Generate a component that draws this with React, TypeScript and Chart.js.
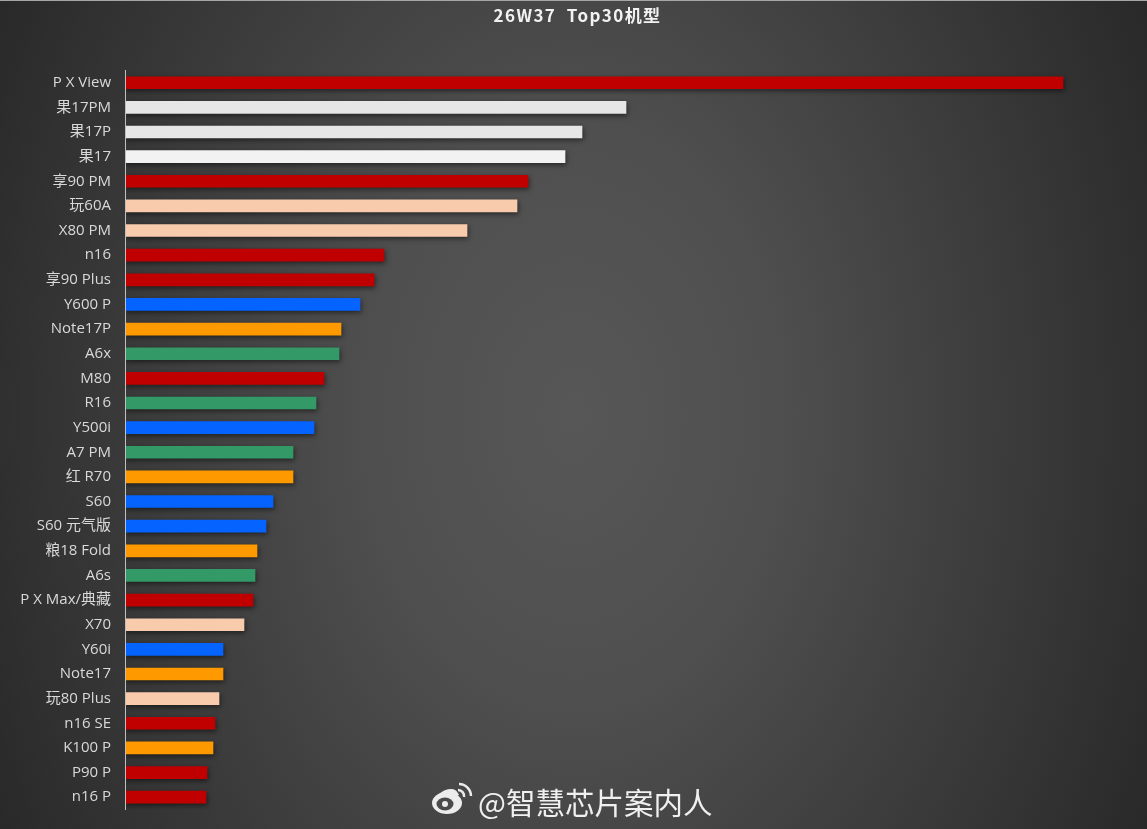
import React, { useEffect, useRef } from "react";
import Chart from "chart.js/auto";

const categories = ["P X View","果17PM","果17P","果17","享90 PM","玩60A","X80 PM","n16","享90 Plus","Y600 P","Note17P","A6x","M80","R16","Y500i","A7 PM","红 R70","S60","S60 元气版","粮18 Fold","A6s","P X Max/典藏","X70","Y60i","Note17","玩80 Plus","n16 SE","K100 P","P90 P","n16 P"];
const values = [938,501,457,440,403,392,342,259,249,235,216,214,199,191,189,168,168,148,141,132,130,128,119,98,98,94,90,88,82,81];
const RED="#c00000", WHITE="#e7e6e6", PEACH="#f8cbad", BLUE="#0563ff", ORANGE="#ff9900", GREEN="#339966";
const barColors = [RED,WHITE,WHITE,"#f2f2f2",RED,PEACH,PEACH,RED,RED,BLUE,ORANGE,GREEN,RED,GREEN,BLUE,GREEN,ORANGE,BLUE,BLUE,ORANGE,GREEN,RED,PEACH,BLUE,ORANGE,PEACH,RED,ORANGE,RED,RED];
const titleText = "26W37  Top30机型";
const watermark = "@智慧芯片案内人";
const FONT = '"Noto Sans CJK SC", "Open Sans", sans-serif';
const LABEL_FONT = '"Open Sans", "Noto Sans CJK SC", sans-serif';

const barShadow = {
  id: "barShadow",
  beforeDatasetsDraw(chart: any) {
    const c = chart.ctx; c.save();
    c.shadowColor = "rgba(0,0,0,0.5)"; c.shadowBlur = 5; c.shadowOffsetX = 1; c.shadowOffsetY = 2;
  },
  afterDatasetsDraw(chart: any) { chart.ctx.restore(); },
};

export default function App() {
  const ref = useRef<HTMLCanvasElement>(null);
  useEffect(() => {
    document.body.style.margin = "0";
    const chart: any = new Chart(ref.current!, {
      type: "bar",
      data: { labels: categories, datasets: [{ data: values, backgroundColor: barColors, barThickness: 12, borderWidth: 0 }] },
      options: {
        indexAxis: "y", responsive: false, animation: false,
        layout: { padding: { right: 22, top: 0, bottom: 19.5 } },
        plugins: {
          legend: { display: false }, tooltip: { enabled: false },
          title: { display: true, text: titleText, color: "#f2f2f2", font: { family: FONT, size: 17, weight: "bold" }, padding: { top: 4, bottom: 46 } },
        },
        scales: {
          x: { display: false, min: 0, max: 1000 },
          y: {
            afterFit(s: any) { s.width = 125; s.paddingTop = 0; s.paddingBottom = 0; },
            grid: { display: false, drawTicks: false },
            border: { display: true, color: "#bfbfbf", width: 1, z: 1 },
            ticks: { autoSkip: false, color: "#d9d9d9", padding: 14, font: { family: LABEL_FONT, size: 15 } },
          },
        },
      },
      plugins: [barShadow],
    } as any);
    const tb = chart.titleBlock;
    const drawTitle = tb.draw.bind(tb);
    tb.draw = () => {
      chart.ctx.save();
      chart.ctx.letterSpacing = "1.4px";
      chart.ctx.translate(15, 1);
      drawTitle();
      chart.ctx.restore();
    };
    chart.draw();
    return () => chart.destroy();
  }, []);
  return (
    <div style={{ position: "relative", width: 1147, height: 829, overflow: "hidden", background: "radial-gradient(ellipse 680px 950px at 50% 50%, #575757 0%, #4f4f4f 30%, #262626 100%)" }}>
      <div style={{ position: "absolute", left: 0, top: 0, width: 1147, height: 1, background: "#a6a6a6" }} />
      <canvas ref={ref} width={1147} height={829} style={{ position: "absolute", left: 0, top: 0 }} />
      <svg width="42" height="36" viewBox="0 0 42 36" style={{ position: "absolute", left: 431, top: 781 }}>
        <ellipse cx="16" cy="22" rx="15" ry="11" fill="#ececec" />
        <path d="M20 8 C12 8 6 14 3 20 L28 14 C26 10 24 8 20 8Z" fill="#ececec" />
        <ellipse cx="14" cy="23" rx="8.5" ry="6.5" fill="#4a4a4a" />
        <circle cx="14" cy="23" r="3" fill="#ececec" />
        <path d="M27 9 A6 6 0 0 1 33 16" stroke="#ececec" strokeWidth="2.5" fill="none" />
        <path d="M28 3 A12 12 0 0 1 40 15" stroke="#ececec" strokeWidth="2.5" fill="none" />
      </svg>
      <div style={{ position: "absolute", left: 478, top: 780, fontFamily: FONT, fontSize: 29.5, lineHeight: "42px", color: "#f0f0f0", whiteSpace: "nowrap" }}>{watermark}</div>
    </div>
  );
}
